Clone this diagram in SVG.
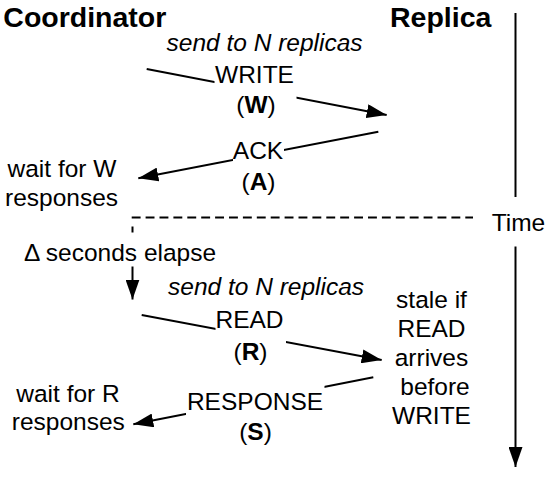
<svg xmlns="http://www.w3.org/2000/svg" width="558" height="479" viewBox="0 0 558 479">
<style>
text{font-family:"Liberation Sans",Arial,Helvetica,sans-serif;font-size:24.5px;fill:#000}
.title{font-weight:bold;font-size:28.5px}
.it{font-style:italic}
.b{font-weight:bold}
.m{text-anchor:middle}
.ln{stroke:#000;stroke-width:2;fill:none}
.arr{marker-end:url(#ah)}
.dash{stroke-dasharray:8.9 5}
.bg{fill:#fff;stroke:none}
</style>
<defs>
<marker id="ah" viewBox="0 0 20 14" refX="20" refY="7" markerWidth="20" markerHeight="14" markerUnits="userSpaceOnUse" orient="auto">
<path d="M0,0 L20,7 L0,14 z" fill="#000"/>
</marker>
</defs>
<rect width="558" height="479" fill="#fff"/>
<g id="connectors">
<line class="ln arr" x1="146.7" y1="69" x2="386.7" y2="115"/>
<line class="ln arr" x1="378.3" y1="131.7" x2="138.3" y2="178.3"/>
<line class="ln dash" x1="131.7" y1="217.5" x2="473" y2="217.5"/>
<line class="ln" x1="132.5" y1="226.5" x2="132.5" y2="232.5"/>
<line class="ln arr" x1="132.5" y1="266.5" x2="132.5" y2="299.5"/>
<line class="ln arr" x1="141.7" y1="315" x2="381.7" y2="360"/>
<line class="ln arr" x1="373.3" y1="377.3" x2="133.3" y2="424.3"/>
<line class="ln" x1="515.5" y1="13" x2="515.5" y2="197"/>
<line class="ln arr" x1="515.5" y1="246.5" x2="515.5" y2="467"/>
</g>
<g id="coordinator"><text class="title" x="3.3" y="27.3">Coordinator</text></g>
<g id="replica"><text class="title" x="390" y="27">Replica</text></g>
<g id="send1"><text class="it" x="166.5" y="51">send to N replicas</text></g>
<g id="write">
<rect class="bg" x="214.5" y="62" width="82" height="58"/>
<text class="m" x="254.5" y="83.3">WRITE</text>
<text class="m" x="256" y="113">(<tspan class="b">W</tspan>)</text>
</g>
<g id="ack">
<rect class="bg" x="233" y="138" width="51" height="58"/>
<text class="m" x="258" y="159">ACK</text>
<text class="m" x="258.5" y="190">(<tspan class="b">A</tspan>)</text>
</g>
<g id="waitW">
<text class="m" x="62" y="177">wait for W</text>
<text class="m" x="61.5" y="206">responses</text>
</g>
<g id="time"><text x="491.7" y="230.7">Time</text></g>
<g id="elapse"><text x="24" y="260.5">Δ seconds elapse</text></g>
<g id="send2"><text class="it" x="168" y="295">send to N replicas</text></g>
<g id="read">
<rect class="bg" x="215.5" y="307" width="70.5" height="61"/>
<text class="m" x="249.5" y="328.3">READ</text>
<text class="m" x="250.5" y="360">(<tspan class="b">R</tspan>)</text>
</g>
<g id="stale">
<text class="m" x="431.5" y="307.5">stale if</text>
<text class="m" x="431.5" y="336.6">READ</text>
<text class="m" x="431.5" y="365.7">arrives</text>
<text class="m" x="435" y="394.8">before</text>
<text class="m" x="431.5" y="423.9">WRITE</text>
</g>
<g id="response">
<rect class="bg" x="186" y="383" width="138.5" height="65"/>
<text class="m" x="255" y="410">RESPONSE</text>
<text class="m" x="255.5" y="440">(<tspan class="b">S</tspan>)</text>
</g>
<g id="waitR">
<text class="m" x="68" y="401.7">wait for R</text>
<text class="m" x="68.3" y="430">responses</text>
</g>
</svg>
